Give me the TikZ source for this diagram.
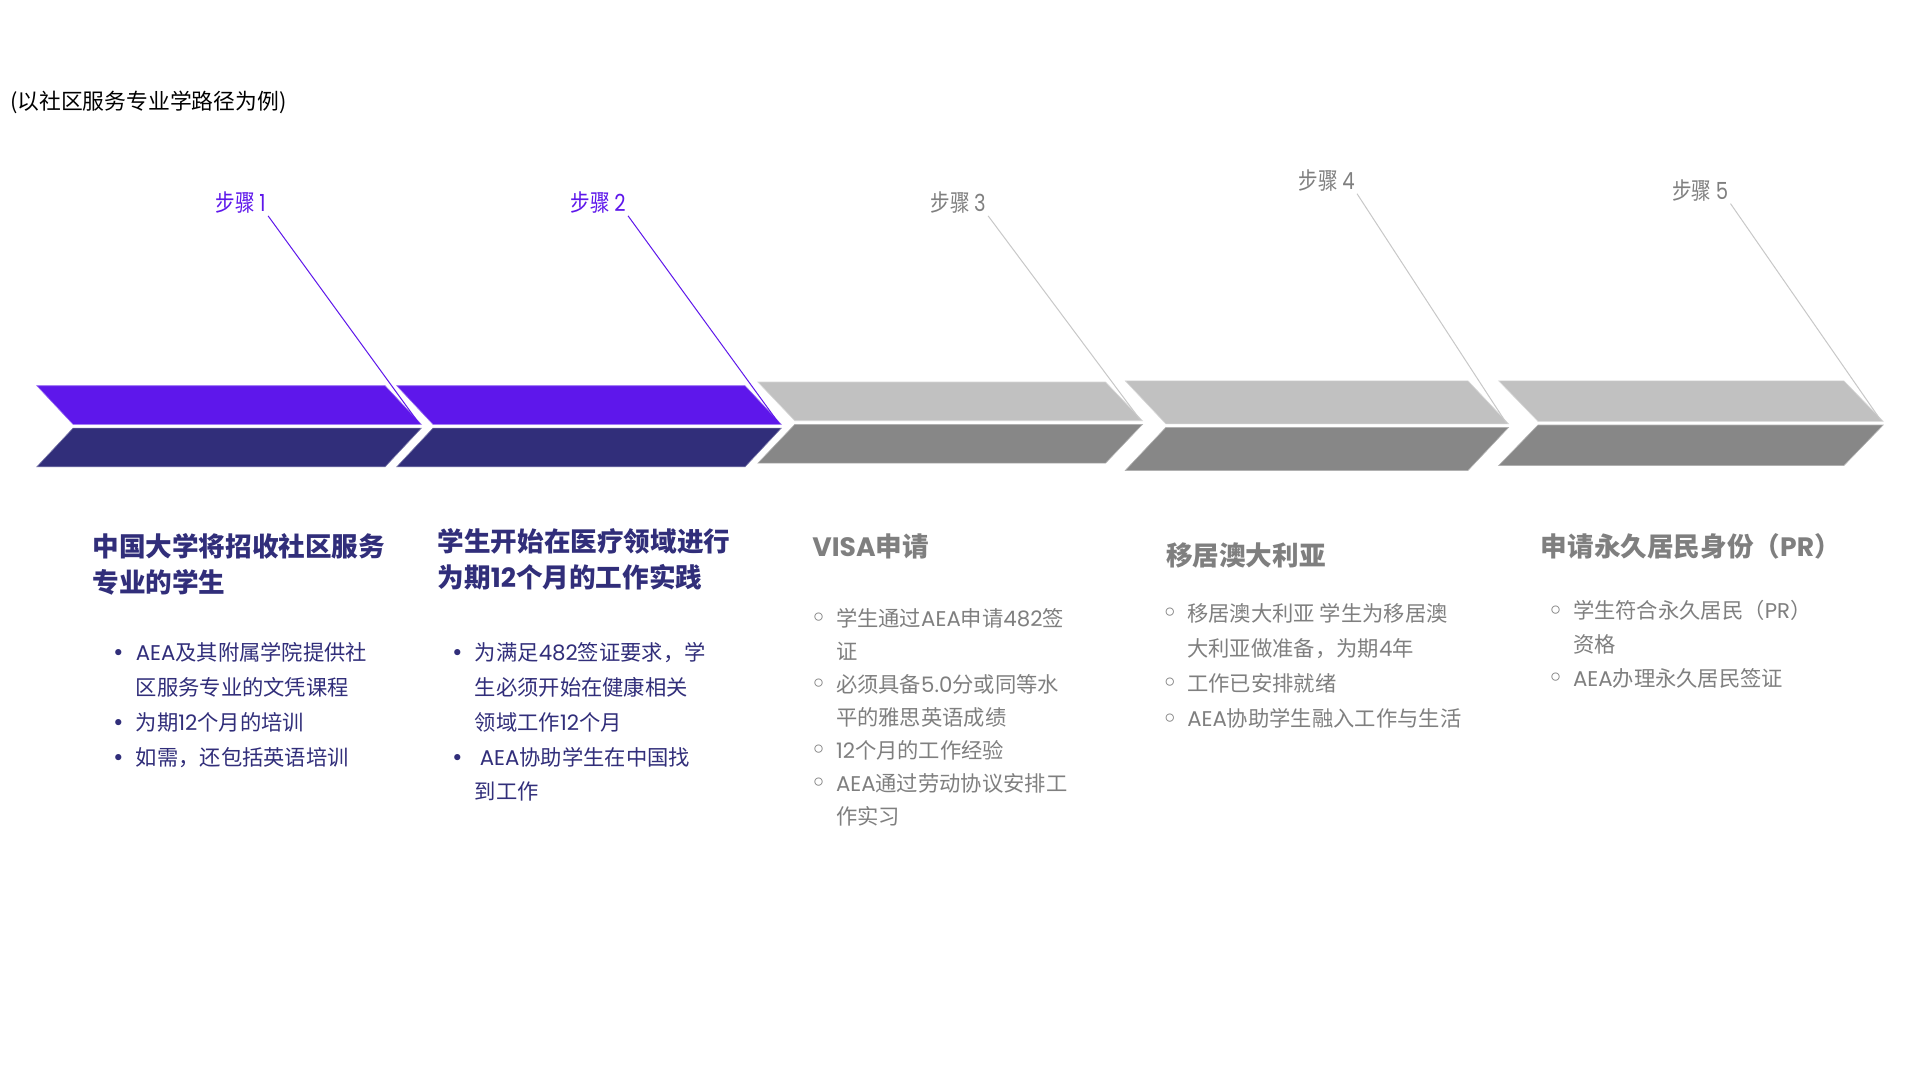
\documentclass[tikz,border=0pt]{standalone}
\usepackage{fontspec}
\usepackage{graphicx}
\setmainfont{Noto Sans CJK SC}
\newfontfamily\pop{Poppins}
\newfontfamily\dvs{DejaVu Sans}
\usetikzlibrary{positioning, calc}

\definecolor{stepviolet}{HTML}{5E17EB}
\definecolor{stepnavy}{HTML}{312E7A}
\definecolor{steplight}{HTML}{C1C1C1}
\definecolor{stepdark}{HTML}{878787}
\definecolor{greytext}{HTML}{7F7F7F}
\definecolor{leadgrey}{HTML}{C8C8C8}

\newcommand\la[1]{{\pop #1}}
\newcommand\fb{\makebox[17.5pt]{\dvs •}}
\newcommand\hb{\makebox[17.5pt]{\raisebox{-0.6pt}{\fontsize{14}{14}\selectfont\dvs ◦}}}
\newcommand\headfont{\fontsize{13.3}{18.1}\selectfont\bfseries}

\begin{document}
\begin{tikzpicture}[x=0.6142pt, y=-0.6142pt,
  head/.style = {anchor=base west, inner sep=0pt, font=\headfont},
  body/.style = {anchor=base west, inner sep=0pt, font=\fontsize{10.65}{#1}\selectfont},
  steplabel/.style = {inner sep=1pt, font=\fontsize{9.8}{11}\selectfont},
  lead/.style = {line width=0.5pt}
]
\fill[white] (0,0) rectangle (1563,879);
\useasboundingbox (0,0) rectangle (1563,879);

\node[anchor=west, inner sep=0pt, font=\fontsize{10.9}{12}\selectfont] (note) at (8,83) {(以社区服务专业学路径为例)};

% chevrons, upper and lower halves
\foreach \x/\w/\t/\b/\s/\up/\lo [count=\i] in {30/283.5/314/380/29.5/stepviolet/stepnavy,
    323/283.5/314/380/29.5/stepviolet/stepnavy, 617/283/311/377/30/steplight/stepdark,
    916/279/310/383/33/steplight/stepdark, 1220/281/310/379/32/steplight/stepdark}{
  \pgfmathsetmacro\m{(\t+\b)/2}
  \filldraw[fill=\up, draw=\up!65!white, line width=0.3pt] (\x,\t) -- (\x+\w,\t) -- (\x+\w+\s,\m-1.5) -- (\x+\s,\m-1.5) -- cycle;
  \filldraw[fill=\lo, draw=\lo!65!white, line width=0.3pt] (\x+\s,\m+1.5) -- (\x+\w+\s,\m+1.5) -- (\x+\w,\b) -- (\x,\b) -- cycle;
  \coordinate (tip\i) at (\x+\w+\s-2,\m-2.5);
}

% step labels
\node[steplabel, text=stepviolet] (s1) at (196,165) {\scalebox{1}[1.2]{步骤 \la{1}}};
\node[steplabel, text=stepviolet] (s2) at (487,165) {\scalebox{1}[1.2]{步骤 \la{2}}};
\node[steplabel, text=greytext] (s3) at (780,165) {\scalebox{1}[1.2]{步骤 \la{3}}};
\node[steplabel, text=greytext] (s4) at (1080,147) {\scalebox{1}[1.2]{步骤 \la{4}}};
\node[steplabel, text=greytext] (s5) at (1384,155) {\scalebox{1}[1.2]{步骤 \la{5}}};
\draw[lead, stepviolet] (s1.south east) -- (tip1);
\draw[lead, stepviolet] (s2.south east) -- (tip2);
\draw[lead, leadgrey] (s3.south east) -- (tip3);
\draw[lead, leadgrey] (s4.south east) -- (tip4);
\draw[lead, leadgrey] (s5.south east) -- (tip5);

% headings
\node[head, text=stepnavy] (h1) at (75,453) {\begin{tabular}[t]{@{}l@{}}中国大学将招收社区服务\\专业的学生\end{tabular}};
\node[head, text=stepnavy] (h2) at (356,449) {\begin{tabular}[t]{@{}l@{}}学生开始在医疗领域进行\\为期\la{12}个月的工作实践\end{tabular}};
\node[head, text=greytext] (h3) at (661,453) {\la{VISA}申请};
\node[head, text=greytext] (h4) at (949,460) {移居澳大利亚};
\node[head, text=greytext] (h5) at (1254,453) {申请永久居民身份（\la{PR}）};

% bullet lists
\node[body=17.4pt, text=stepnavy] (b1) at (81.75,537.8) {\begin{tabular}[t]{@{}l@{}l@{}}
  \fb & \la{AEA}及其附属学院提供社\\
      & 区服务专业的文凭课程\\
  \fb & 为期\la{12}个月的培训\\
  \fb & 如需，还包括英语培训
\end{tabular}};
\node[body=17.4pt, text=stepnavy] (b2) at (357.75,537.8) {\begin{tabular}[t]{@{}l@{}l@{}}
  \fb & 为满足\la{482}签证要求，学\\
      & 生必须开始在健康相关\\
      & 领域工作\la{12}个月\\
  \fb & \hspace{2.5pt}\la{AEA}协助学生在中国找\\
      & 到工作
\end{tabular}};
\node[body=16.5pt, text=greytext] (b3) at (651.75,509.8) {\begin{tabular}[t]{@{}l@{}l@{}}
  \hb & 学生通过\la{AEA}申请\la{482}签\\
      & 证\\
  \hb & 必须具备\la{5.0}分或同等水\\
      & 平的雅思英语成绩\\
  \hb & \la{12}个月的工作经验\\
  \hb & \la{AEA}通过劳动协议安排工\\
      & 作实习
\end{tabular}};
\node[body=17.6pt, text=greytext] (b4) at (937.75,505.8) {\begin{tabular}[t]{@{}l@{}l@{}}
  \hb & 移居澳大利亚 学生为移居澳\\
      & 大利亚做准备，为期\la{4}年\\
  \hb & 工作已安排就绪\\
  \hb & \la{AEA}协助学生融入工作与生活
\end{tabular}};
\node[body=16.9pt, text=greytext] (b5) at (1251.75,503.8) {\begin{tabular}[t]{@{}l@{}l@{}}
  \hb & 学生符合永久居民（\la{PR}）\\
      & 资格\\
  \hb & \la{AEA}办理永久居民签证
\end{tabular}};
\end{tikzpicture}
\end{document}
